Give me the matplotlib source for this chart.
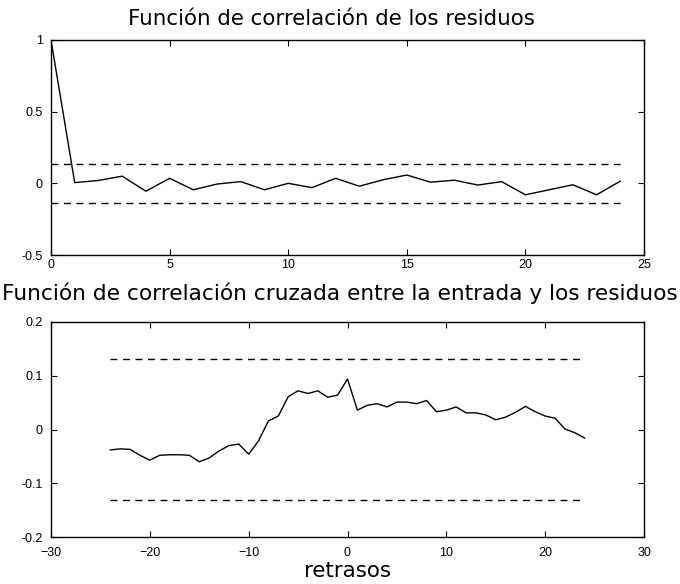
import matplotlib
matplotlib.use("Agg")
import matplotlib.pyplot as plt
import numpy as np

# Autocorrelation of residuals (lags 0..24)
lags_auto = list(range(0, 25))
auto_vals = [1.0, 0.005, 0.02, 0.05, -0.055, 0.035, -0.045, -0.005, 0.012, -0.045,
             0.0, -0.03, 0.035, -0.02, 0.025, 0.058, 0.008, 0.022, -0.012, 0.012,
             -0.08, -0.045, -0.01, -0.08, 0.015]
auto_conf = 0.135

# Cross-correlation input/residuals (lags -24..24)
lags_cross = list(range(-24, 25))
cross_vals = [-0.038, -0.036, -0.037, -0.048, -0.057, -0.048, -0.047, -0.047, -0.048,
              -0.060, -0.053, -0.040, -0.030, -0.027, -0.046, -0.021, 0.016, 0.025,
              0.061, 0.072, 0.067, 0.072, 0.060, 0.064, 0.094, 0.036, 0.045, 0.048,
              0.042, 0.051, 0.051, 0.048, 0.054, 0.033, 0.036, 0.042, 0.031, 0.031,
              0.027, 0.018, 0.023, 0.032, 0.043, 0.033, 0.025, 0.021, 0.001, -0.006,
              -0.016]
cross_conf = 0.1316

title_top = "Función de correlación de los residuos"
title_bottom = "Función de correlación cruzada entre la entrada y los residuos"
xlabel_bottom = "retrasos"

plt.rcParams['font.family'] = ['Liberation Sans', 'DejaVu Sans']
title_font = ['DejaVu Sans']

W, H = 680, 584
fig = plt.figure(figsize=(6.8, 5.84), dpi=100)
ax1 = fig.add_axes([51/W, 1-255/H, 593/W, 215/H])
ax2 = fig.add_axes([51/W, 1-537/H, 593/W, 215/H])

def style(ax, xpad):
    ax.tick_params(direction='in', length=4, width=0.8, top=True, right=True,
                   labelsize=9)
    ax.tick_params(axis='x', pad=xpad)
    ax.tick_params(axis='y', pad=6)
    for s in ax.spines.values():
        s.set_linewidth(1.0)

ax1.plot(lags_auto, auto_vals, color='black', lw=1.0)
ax1.plot([lags_auto[0], lags_auto[-1]], [auto_conf, auto_conf], 'k--', lw=1.0, dashes=(5, 4))
ax1.plot([lags_auto[0], lags_auto[-1]], [-auto_conf, -auto_conf], 'k--', lw=1.0, dashes=(5, 4))
ax1.set_xlim(0, 25)
ax1.set_ylim(-0.5, 1)
ax1.set_xticks([0, 5, 10, 15, 20, 25])
ax1.set_yticks([-0.5, 0, 0.5, 1])
ax1.set_yticklabels(['-0.5', '0', '0.5', '1'])
style(ax1, 3)
ax1.set_title(title_top, fontsize=15.4, family=title_font, pad=15*0.72, x=(331-51)/593)

ax2.plot(lags_cross, cross_vals, color='black', lw=1.0)
ax2.plot([lags_cross[0], lags_cross[-1]], [cross_conf, cross_conf], 'k--', lw=1.0, dashes=(5, 4))
ax2.plot([lags_cross[0], lags_cross[-1]], [-cross_conf, -cross_conf], 'k--', lw=1.0, dashes=(5, 4))
ax2.set_xlim(-30, 30)
ax2.set_ylim(-0.2, 0.2)
ax2.set_xticks([-30, -20, -10, 0, 10, 20, 30])
ax2.set_yticks([-0.2, -0.1, 0, 0.1, 0.2])
ax2.set_yticklabels(['-0.2', '-0.1', '0', '0.1', '0.2'])
style(ax2, 7)
ax2.set_title(title_bottom, fontsize=15.6, family=title_font, pad=22*0.72, x=(340-51)/593)
ax2.set_xlabel(xlabel_bottom, fontsize=15.4, family=title_font)
ax2.xaxis.label.set_va('baseline')
ax2.xaxis.set_label_coords(0.5, -(577-537)/215)

fig.savefig("out.png", dpi=100)
